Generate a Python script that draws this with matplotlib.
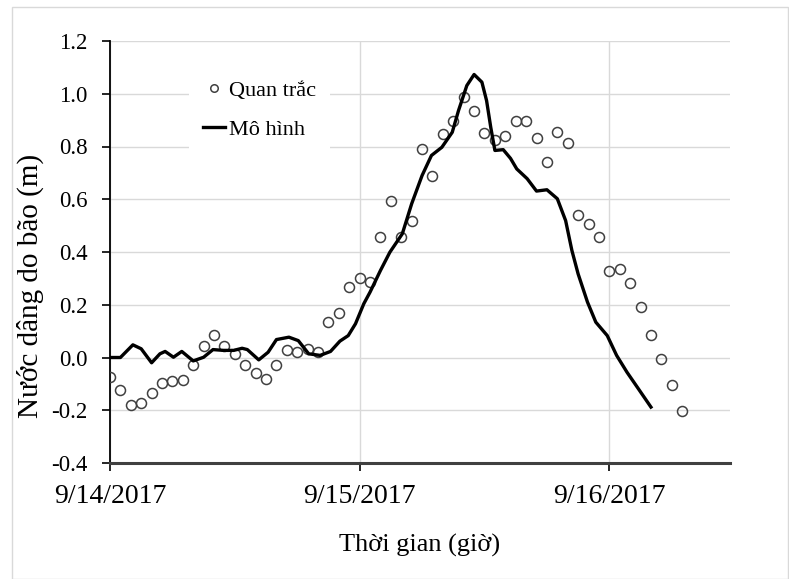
import matplotlib
matplotlib.use("Agg")
import matplotlib.pyplot as plt
from matplotlib.patches import Rectangle

# 폰트 설정 (Times 계열)
plt.rcParams["font.family"] = ["Liberation Serif", "DejaVu Serif"]

# 관측값 (매 시간, 9/14/2017 00:00 부터)
obs_hours = list(range(56))
obs_values = [
    -0.075, -0.122, -0.181, -0.172, -0.133, -0.095, -0.090, -0.085, -0.029, 0.044,
    0.085, 0.045, 0.013, -0.030, -0.059, -0.081, -0.030, 0.027, 0.019, 0.033,
    0.020, 0.134, 0.169, 0.267, 0.302, 0.287, 0.455, 0.595, 0.456, 0.517,
    0.790, 0.689, 0.848, 0.896, 0.986, 0.936, 0.850, 0.823, 0.840, 0.896,
    0.897, 0.833, 0.743, 0.856, 0.815, 0.542, 0.507, 0.456, 0.327, 0.335,
    0.282, 0.193, 0.087, -0.006, -0.104, -0.201,
]

# 모델 결과 (시간, 값)
model_hours = [
    0.0, 1.0, 1.5, 2.2, 3.0, 4.0, 4.8, 5.3, 6.1, 6.9,
    8.0, 9.0, 9.9, 10.9, 11.9, 12.7, 13.2, 14.3, 15.2, 16.0,
    17.2, 18.1, 19.1, 20.2, 21.2, 22.1, 22.9, 23.6, 24.4, 25.0,
    26.0, 26.9, 28.1, 29.0, 30.0, 30.9, 31.9, 32.9, 33.5, 34.3,
    35.0, 35.75, 36.2, 36.6, 37.0, 37.8, 38.5, 39.1, 40.1, 41.0,
    42.0, 43.0, 43.8, 44.4, 45.0, 45.9, 46.7, 47.8, 48.7, 49.7,
    50.8, 52.0,
]
model_values = [
    0.000, 0.000, 0.020, 0.048, 0.033, -0.020, 0.014, 0.023, 0.001, 0.023,
    -0.013, 0.001, 0.030, 0.027, 0.027, 0.035, 0.030, -0.009, 0.020, 0.068,
    0.077, 0.064, 0.014, 0.008, 0.023, 0.062, 0.083, 0.128, 0.204, 0.248,
    0.330, 0.399, 0.469, 0.583, 0.690, 0.766, 0.797, 0.854, 0.936, 1.031,
    1.073, 1.044, 0.974, 0.873, 0.785, 0.788, 0.755, 0.715, 0.678, 0.631,
    0.636, 0.602, 0.519, 0.406, 0.317, 0.210, 0.134, 0.083, 0.008, -0.056,
    -0.119, -0.188,
]

tick_hours = [0, 24, 48]
tick_labels = ["9/14/2017", "9/15/2017", "9/16/2017"]
y_ticks = [-0.4, -0.2, 0.0, 0.2, 0.4, 0.6, 0.8, 1.0, 1.2]

fig = plt.figure(figsize=(7.89, 5.79), dpi=100)
ax = fig.add_axes([110 / 789, 1 - 463 / 579, 620 / 789, 422 / 579])

# 바깥 테두리
fig.patches.append(Rectangle((12 / 789, 0.0), 776 / 789, 1 - 7 / 579,
                             transform=fig.transFigure, fill=False,
                             edgecolor="#d9d9d9", linewidth=1.0))

ax.plot(obs_hours, obs_values, linestyle="none", marker="o", markersize=7.2,
        markerfacecolor="none", markeredgecolor="#404040", markeredgewidth=1.1,
        label="Quan trắc", zorder=3)
ax.plot(model_hours, model_values, color="black", linewidth=2.4,
        solid_joinstyle="round", label="Mô hình", zorder=4)

ax.set_xlim(0, 59.6)
ax.set_ylim(-0.4, 1.2)
ax.set_xticks(tick_hours)
ax.set_xticklabels(tick_labels)
ax.set_yticks(y_ticks)
ax.set_yticklabels([f"{v:.1f}" for v in y_ticks])

ax.grid(True, color="#d9d9d9", linewidth=1.0)
ax.set_axisbelow(True)
for side in ["top", "right"]:
    ax.spines[side].set_visible(False)
ax.spines["left"].set_linewidth(1.3)
ax.spines["bottom"].set_linewidth(2.2)
ax.spines["bottom"].set_color("#404040")

ax.tick_params(axis="y", direction="out", length=6, width=1.2, labelsize=16.5, pad=10)
ax.tick_params(axis="x", direction="out", length=6, width=1.2, labelsize=20, pad=9)

ax.set_xlabel("Thời gian (giờ)", fontsize=19, va="center")
ax.xaxis.set_label_coords(0.5, -0.195)
ax.set_ylabel("Nước dâng do bão (m)", fontsize=21, va="center")
ax.yaxis.set_label_coords(-0.128, 0.42)

leg = ax.legend(loc="upper left", bbox_to_anchor=(0.11, 0.965), fontsize=16,
                frameon=True, facecolor="white", edgecolor="none", framealpha=1,
                markerscale=0.75, handlelength=1.0, handletextpad=0.2,
                labelspacing=0.85, borderpad=0.6)
leg.get_frame().set_linewidth(0)

plt.savefig("out.png", dpi=100)
